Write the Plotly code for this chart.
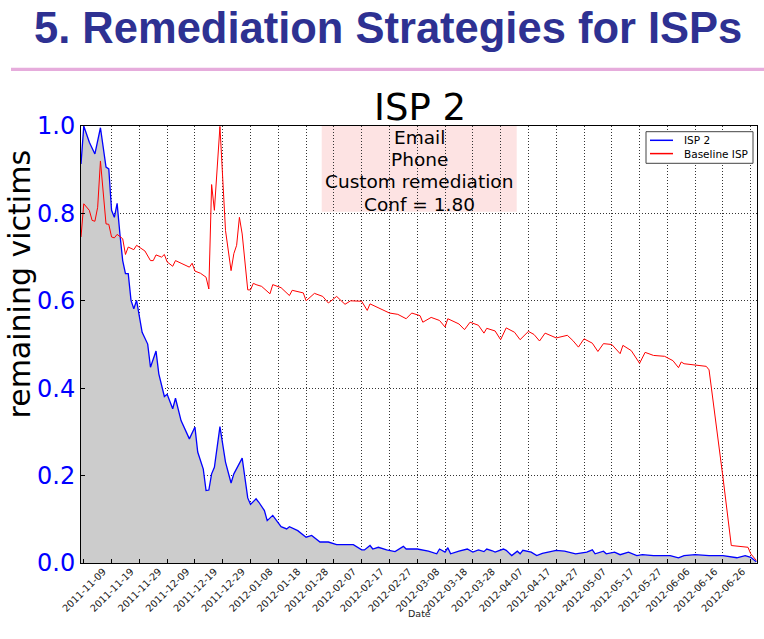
import datetime as dt
import plotly.graph_objects as go

# ---------------- data ----------------
START = "2011-11-09"  # day 0

ISP2_DAYS = [-1, 0, 2, 4, 6, 8, 9, 10, 11, 12, 13, 14, 15, 16, 17, 18, 19, 21, 23, 24,
             26, 27, 29, 30, 32, 33, 35, 38, 40, 41, 43, 44, 45, 46, 47, 49, 51, 53, 54, 57,
             59, 60, 62, 63, 65, 66, 68, 71, 73, 74, 77, 80, 82, 85, 88, 91, 94, 97, 100, 101,
             103, 104, 106, 109, 112, 115, 116, 120, 124, 127, 128, 130, 131, 132, 135, 138, 140, 142, 144, 145,
             147, 148, 151, 152, 154, 156, 157, 158, 161, 163, 165, 170, 173, 177, 181, 183, 184, 187, 188, 191,
             193, 196, 199, 201, 205, 211, 214, 216, 220, 225, 230, 235, 238, 240, 242]
ISP2_VALUES = [0.913, 1.000, 0.963, 0.936, 0.996, 0.906, 0.902, 0.807, 0.791, 0.823, 0.753, 0.692, 0.662, 0.662, 0.601, 0.582, 0.601, 0.528, 0.501, 0.448,
               0.485, 0.433, 0.381, 0.386, 0.353, 0.377, 0.326, 0.284, 0.311, 0.254, 0.215, 0.166, 0.167, 0.204, 0.219, 0.312, 0.231, 0.183, 0.204, 0.240,
               0.149, 0.134, 0.147, 0.139, 0.120, 0.097, 0.109, 0.083, 0.078, 0.083, 0.074, 0.059, 0.063, 0.048, 0.048, 0.042, 0.042, 0.042, 0.030, 0.030,
               0.040, 0.032, 0.036, 0.030, 0.026, 0.038, 0.032, 0.032, 0.027, 0.021, 0.032, 0.025, 0.035, 0.021, 0.027, 0.032, 0.025, 0.030, 0.026, 0.032,
               0.028, 0.025, 0.032, 0.029, 0.017, 0.027, 0.021, 0.029, 0.025, 0.017, 0.022, 0.029, 0.027, 0.021, 0.025, 0.030, 0.021, 0.027, 0.021, 0.025,
               0.019, 0.025, 0.017, 0.019, 0.017, 0.017, 0.012, 0.017, 0.019, 0.017, 0.017, 0.012, 0.017, 0.013, 0.003]

BASE_DAYS = [-1, 0, 2, 3, 4, 5, 6, 7, 8, 9, 10, 11, 12, 14, 15, 16, 18, 19, 21, 22,
             24, 25, 26, 28, 29, 30, 32, 33, 35, 38, 39, 40, 42, 44, 45, 46, 47, 49, 51, 53,
             54, 55, 56, 57, 59, 60, 61, 62, 64, 67, 68, 71, 74, 75, 79, 80, 83, 86, 88, 91,
             94, 96, 100, 102, 103, 107, 110, 113, 116, 118, 121, 122, 125, 128, 130, 131, 135, 137, 139, 142,
             144, 145, 148, 150, 152, 155, 157, 160, 162, 164, 166, 170, 174, 176, 178, 180, 183, 185, 187, 190,
             193, 194, 197, 200, 202, 205, 209, 212, 214, 215, 216, 224, 225, 230, 233, 239, 240, 242]
BASE_VALUES = [0.746, 0.822, 0.807, 0.784, 0.782, 0.814, 0.920, 0.837, 0.776, 0.775, 0.746, 0.744, 0.752, 0.742, 0.706, 0.723, 0.717, 0.727, 0.719, 0.714,
               0.692, 0.692, 0.705, 0.700, 0.706, 0.689, 0.679, 0.692, 0.686, 0.677, 0.686, 0.668, 0.663, 0.654, 0.627, 0.866, 0.807, 0.999, 0.761, 0.669,
               0.708, 0.727, 0.791, 0.753, 0.625, 0.625, 0.640, 0.637, 0.633, 0.616, 0.637, 0.630, 0.612, 0.624, 0.618, 0.600, 0.617, 0.610, 0.595, 0.610,
               0.592, 0.600, 0.599, 0.578, 0.593, 0.581, 0.572, 0.569, 0.559, 0.572, 0.566, 0.551, 0.562, 0.555, 0.540, 0.559, 0.547, 0.534, 0.551, 0.544,
               0.526, 0.537, 0.531, 0.511, 0.538, 0.528, 0.511, 0.530, 0.523, 0.508, 0.526, 0.515, 0.521, 0.509, 0.494, 0.513, 0.503, 0.484, 0.502, 0.500,
               0.479, 0.498, 0.486, 0.457, 0.482, 0.475, 0.473, 0.463, 0.447, 0.460, 0.456, 0.450, 0.442, 0.196, 0.040, 0.036, 0.021, 0.006]

SERIES_NAMES = ["ISP 2", "Baseline ISP"]
SERIES_COLORS = ["#0000ff", "#ff0000"]
TICK_LABELS = ["2011-11-09", "2011-11-19", "2011-11-29", "2011-12-09", "2011-12-19", "2011-12-29",
               "2012-01-08", "2012-01-18", "2012-01-28", "2012-02-07", "2012-02-17", "2012-02-27",
               "2012-03-08", "2012-03-18", "2012-03-28", "2012-04-07", "2012-04-17", "2012-04-27",
               "2012-05-07", "2012-05-17", "2012-05-27", "2012-06-06", "2012-06-16", "2012-06-26"]
EXTRA_GRID = ["2012-07-06"]
Y_TICKS = [0.0, 0.2, 0.4, 0.6, 0.8, 1.0]
NOTE_LINES = ["Email", "Phone", "Custom remediation", "Conf = 1.80"]
X_RANGE = ["2011-11-08", "2012-07-08 06:00"]

# ---------------- helpers ----------------
start = dt.datetime.strptime(START, "%Y-%m-%d")
to_date = lambda d: start + dt.timedelta(days=d)
isp2_x = [to_date(d) for d in ISP2_DAYS]
base_x = [to_date(d) for d in BASE_DAYS]
grid_vals = TICK_LABELS + EXTRA_GRID
label_vals = [dt.datetime.strptime(s, "%Y-%m-%d") + dt.timedelta(days=7) for s in TICK_LABELS]

W, H = 764, 639
PL, PR, PT, PB = 81, 757, 126, 563            # plot box in pixels
L, T, R, B = PL, PT, W - PR, H - PB
PW, PH = PR - PL, PB - PT
px = lambda x: (x - PL) / PW                  # pixel -> paper
py = lambda y: (PB - y) / PH

fig = go.Figure()
# gray area under ISP 2
fig.add_trace(go.Scatter(x=isp2_x, y=ISP2_VALUES, mode="lines", showlegend=False,
                         line=dict(width=0, color="#cccccc"), hoverinfo="skip",
                         fill="tozeroy", fillcolor="#cccccc"))
fig.add_trace(go.Scatter(x=isp2_x, y=ISP2_VALUES, name=SERIES_NAMES[0], mode="lines",
                         showlegend=False, line=dict(color=SERIES_COLORS[0], width=1.3)))
fig.add_trace(go.Scatter(x=base_x, y=BASE_VALUES, name=SERIES_NAMES[1], mode="lines",
                         showlegend=False, line=dict(color=SERIES_COLORS[1], width=1), xaxis="x2"))

axis_common = dict(showline=True, linecolor="black", linewidth=1, mirror=True)
fig.update_layout(
    width=W, height=H, autosize=False,
    margin=dict(l=L, r=R, t=T, b=B, pad=0, autoexpand=False),
    paper_bgcolor="white", plot_bgcolor="white",
    font=dict(family="DejaVu Sans", color="black"),
    showlegend=False,
    xaxis=dict(type="date", range=X_RANGE, tickmode="array", tickvals=grid_vals,
               showticklabels=False, ticks="inside", ticklen=4, tickcolor="black",
               showgrid=True, gridcolor="#333333", gridwidth=1, griddash="1px,2px",
               zeroline=False, automargin=False, **axis_common),
    xaxis2=dict(type="date", range=X_RANGE, overlaying="x", anchor="y", side="bottom",
                tickmode="array", tickvals=label_vals, ticktext=TICK_LABELS,
                tickangle=-45, tickfont=dict(size=9.8, color="#1a1a1a", family="DejaVu Sans"),
                ticks="", showgrid=False, showline=False, zeroline=False, automargin=False),
    yaxis=dict(range=[0, 1], tickmode="array", tickvals=Y_TICKS, tickformat=".1f",
               tickfont=dict(size=24, color="#0000ff", family="DejaVu Sans"),
               ticks="inside", ticklen=4, tickcolor="black",
               showgrid=True, gridcolor="#333333", gridwidth=1, griddash="1px,2px",
               zeroline=False, automargin=False, **axis_common),
)

# legend box (matplotlib style, compact)
fig.add_shape(type="rect", xref="paper", yref="paper", x0=px(646), x1=px(753),
              y0=py(163.3), y1=py(131.7), fillcolor="white",
              line=dict(color="#444444", width=1), layer="above")
for i, (name, color) in enumerate(zip(SERIES_NAMES, SERIES_COLORS)):
    yy = py(140.3 + 13.3 * i)
    fig.add_shape(type="line", xref="paper", yref="paper", x0=px(650), x1=px(673),
                  y0=yy, y1=yy, line=dict(color=color, width=1.5), layer="above")
    fig.add_annotation(text=name, xref="paper", yref="paper", x=px(682), y=yy,
                       xanchor="left", yanchor="middle", showarrow=False,
                       font=dict(size=10.5, family="DejaVu Sans", color="black"))

# annotation box behind text
fig.add_shape(type="rect", xref="paper", yref="paper",
              x0=px(321.7), x1=px(516.7), y0=py(211.7), y1=1.0,
              fillcolor="#fde3e3", line=dict(width=0), layer="below")
for i, line in enumerate(NOTE_LINES):
    fig.add_annotation(text=line, xref="paper", yref="paper", x=px(419.2),
                       y=py(137.5 + 22.2 * i), xanchor="center", yanchor="middle",
                       showarrow=False, font=dict(size=18.5, family="DejaVu Sans", color="black"))

# chart title
fig.add_annotation(text="ISP 2", xref="paper", yref="paper", x=px(419.5), y=py(107.0),
                   xanchor="center", yanchor="middle", showarrow=False,
                   font=dict(size=37, family="DejaVu Sans", color="black"))
# y-axis title
fig.add_annotation(text="remaining victims", xref="paper", yref="paper", x=px(18.5), y=py(284),
                   xanchor="center", yanchor="middle", textangle=-90, showarrow=False,
                   font=dict(size=30, family="DejaVu Sans", color="black"))
# x-axis title
fig.add_annotation(text="Date", xref="paper", yref="paper", x=px(420), y=py(613),
                   xanchor="center", yanchor="middle", showarrow=False,
                   font=dict(size=9.5, family="DejaVu Sans", color="#222222"))

# slide heading and rule
fig.add_annotation(text="<b>5. Remediation Strategies for ISPs</b>", xref="paper", yref="paper",
                   x=px(388), y=py(27.8), xanchor="center", yanchor="middle", showarrow=False,
                   font=dict(size=43.5, family="Liberation Sans", color="#2e3192"))
fig.add_shape(type="line", xref="paper", yref="paper", x0=px(11), x1=px(764),
              y0=py(69.3), y1=py(69.3), line=dict(color="#e6acdc", width=3.3))

# the page body has a default 8px margin; remove it so the figure fills the window
fig.write_html("out.html", config={"displayModeBar": False},
               post_script="document.body.style.margin='0';")
